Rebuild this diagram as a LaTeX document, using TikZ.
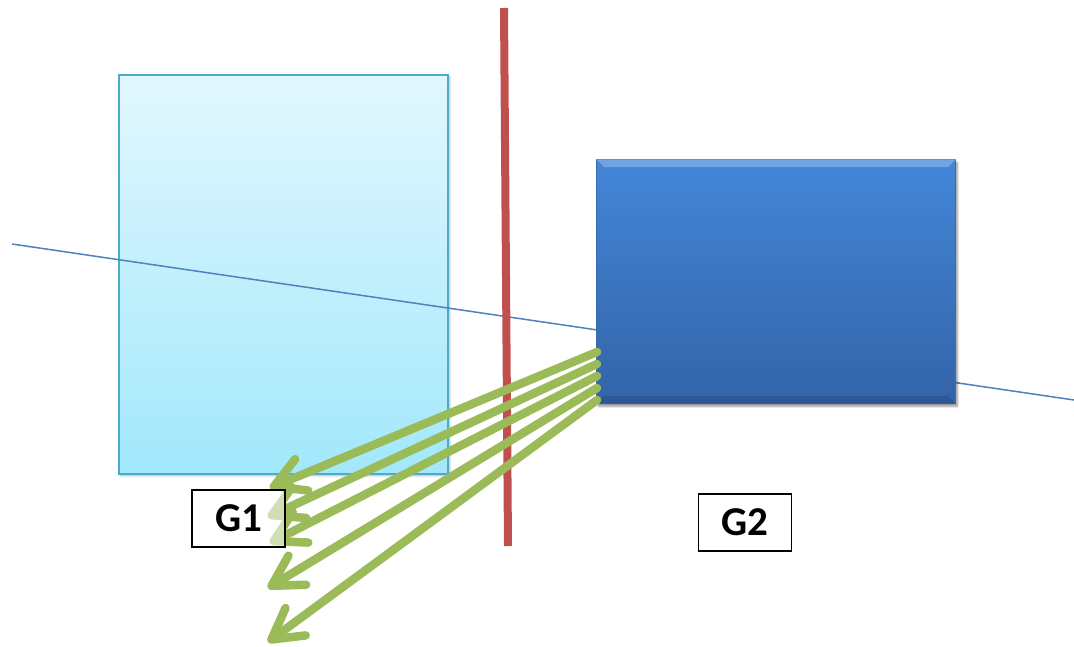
\documentclass[tikz,border=0pt]{standalone}
\usepackage{fontspec}
\setmainfont{Carlito}
\usetikzlibrary{arrows.meta,shadows.blur}
\definecolor{lbtop}{HTML}{E2F7FD}
\definecolor{lbbot}{HTML}{A2E8FC}
\definecolor{lbdraw}{HTML}{4BACC6}
\definecolor{dbtop}{HTML}{4386D8}
\definecolor{dbbot}{HTML}{3364A8}
\definecolor{dbdraw}{HTML}{3A6DB0}
\definecolor{redl}{HTML}{C0504D}
\definecolor{bluel}{HTML}{4F81BD}
\definecolor{greenl}{HTML}{9BBB59}
\tikzset{
  lightbox/.style={draw=lbdraw,line width=1.5pt,top color=lbtop,bottom color=lbbot,inner sep=0pt,
    blur shadow={shadow xshift=2pt,shadow yshift=-2pt,shadow blur steps=6,shadow opacity=30}},
  darkbox/.style={draw=dbdraw,line width=1pt,top color=dbtop,bottom color=dbbot,inner sep=0pt,
    blur shadow={shadow xshift=2pt,shadow yshift=-3pt,shadow blur steps=6,shadow opacity=40}},
  ray/.style={draw=greenl,line width=8.5pt,line cap=round,line join=round,
    -{Straight Barb[length=30pt,width=34pt,round]}},
  label/.style={draw=black,line width=1.5pt,fill=white,fill opacity=0.55,text opacity=1,
    minimum width=93pt,minimum height=57pt,inner sep=0pt,font=\fontsize{41}{48}\selectfont\bfseries},
}
\begin{document}
\begin{tikzpicture}[x=1pt,y=-1pt]
\useasboundingbox (0,0) rectangle (1074,646);
% light blue slab
\node[lightbox,minimum width=329pt,minimum height=399pt,anchor=north west] (g1) at (118,74) {};
% optical axis
\coordinate (axL) at (12,244);
\coordinate (axR) at (1074,400);
\draw[bluel,line width=1.5pt] (axL) -- (axR);
% red plane
\coordinate (rt) at (504,8);
\coordinate (rb) at (508,546);
\draw[redl,line width=8pt] (rt) -- (rb);
% dark blue block
\node[darkbox,minimum width=359pt,minimum height=244pt,anchor=north west] (g2) at (596,159) {};
\fill[white,opacity=0.25] (g2.north west) -- (g2.north east) -- ([xshift=-8pt,yshift=-8pt]g2.north east) -- ([xshift=8pt,yshift=-8pt]g2.north west) -- cycle;
\fill[black,opacity=0.12] (g2.south west) -- (g2.south east) -- ([xshift=-8pt,yshift=8pt]g2.south east) -- ([xshift=8pt,yshift=8pt]g2.south west) -- cycle;
% rays
\foreach \i/\sy/\tx/\ty in {1/352/270/488, 2/364/268/517, 3/376/270/543, 4/388/268/588, 5/400/268/642}{
  \coordinate (s\i) at (597,\sy);
  \coordinate (t\i) at (\tx,\ty);
}
\foreach \i in {1,...,5}{
  \draw[ray] (s\i) -- (t\i);
}
% labels
\node[label] (lab1) at (238.5,518.5) {G1};
\node[label] (lab2) at (745,522.5) {G2};
\end{tikzpicture}
\end{document}
